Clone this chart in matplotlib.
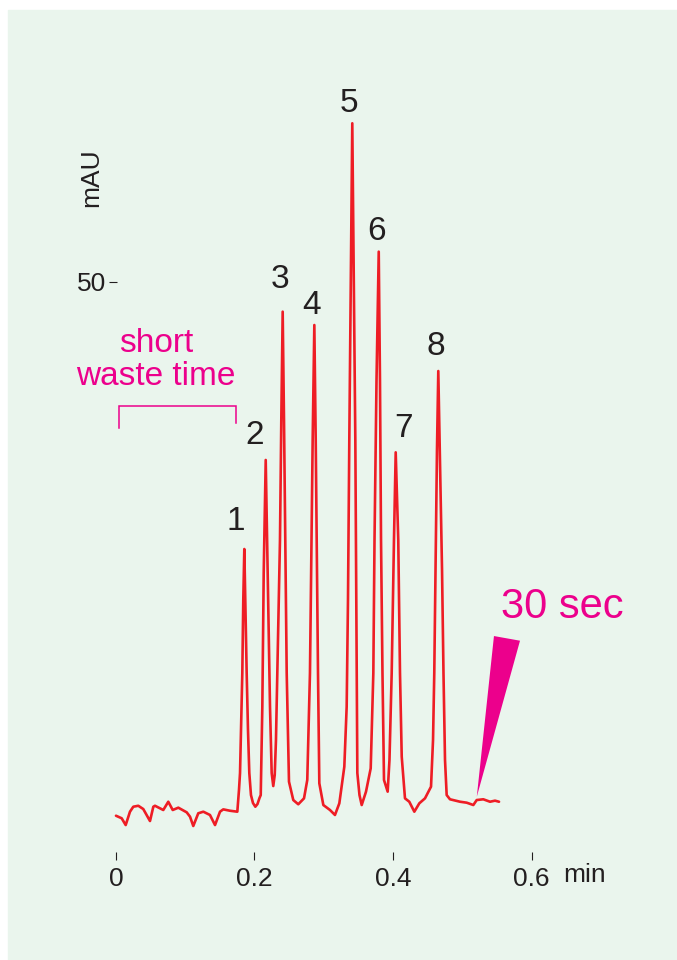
import matplotlib
matplotlib.use("Agg")
import matplotlib.pyplot as plt
from matplotlib.patches import Rectangle, Polygon

# trace: time (min) vs absorbance (mAU)
time_min = [
    0.0000, 0.0082, 0.0140, 0.0202, 0.0250, 0.0322, 0.0394, 0.0491, 0.0539, 0.0563,
    0.0683, 0.0755, 0.0819, 0.0900, 0.1021, 0.1069, 0.1116, 0.1188, 0.1261, 0.1357,
    0.1430, 0.1502, 0.1549, 0.1646, 0.1752,
    # peak 1
    0.1776, 0.1791, 0.1809, 0.1824, 0.1838, 0.1853, 0.1867, 0.1887, 0.1906, 0.1925,
    0.1949, 0.1978, 0.2012, 0.2043,
    # peak 2
    0.2072, 0.2090, 0.2113, 0.2133, 0.2162, 0.2191, 0.2224, 0.2248, 0.2271, 0.2292,
    # peak 3
    0.2310, 0.2339, 0.2368, 0.2387, 0.2407, 0.2426, 0.2445, 0.2465, 0.2498, 0.2560,
    0.2632, 0.2715, 0.2762,
    # peak 4
    0.2801, 0.2823, 0.2840, 0.2864, 0.2884, 0.2898, 0.2917, 0.2936, 0.2994, 0.3090,
    0.3162, 0.3225, 0.3297,
    # peak 5
    0.3331, 0.3350, 0.3369, 0.3391, 0.3412, 0.3434, 0.3456, 0.3470, 0.3485, 0.3516,
    0.3548, 0.3610, 0.3678,
    # peak 6
    0.3716, 0.3733, 0.3762, 0.3794, 0.3812, 0.3827, 0.3848, 0.3870, 0.3923, 0.3949,
    # peak 7
    0.3981, 0.4014, 0.4039, 0.4076, 0.4101, 0.4126, 0.4173, 0.4235, 0.4308, 0.4380,
    0.4462, 0.4549,
    # peak 8 and tail
    0.4578, 0.4596, 0.4614, 0.4635, 0.4654, 0.4676, 0.4708, 0.4729, 0.4751, 0.4775,
    0.4823, 0.4968, 0.5064, 0.5160, 0.5209, 0.5304, 0.5401, 0.5473, 0.5531,
]
signal_mau = [
    -0.35, -0.59, -1.23, 0.03, 0.50, 0.59, 0.28, -0.85, 0.50, 0.59,
    0.19, 0.97, 0.19, 0.41, -0.03, -0.44, -1.32, -0.12, 0.03, -0.28,
    -1.23, 0.03, 0.25, 0.12, 0.03,
    2.08, 3.68, 8.68, 13.11, 20.00, 24.81, 20.00, 13.11, 7.74, 3.68,
    1.60, 0.85, 0.50, 0.75,
    1.32, 1.60, 9.91, 22.55, 33.21, 22.55, 9.91, 3.68, 2.45, 3.49,
    6.79, 16.23, 25.66, 36.98, 47.20, 36.98, 25.66, 13.11, 2.86, 1.13,
    0.73, 1.29, 3.02,
    13.11, 25.66, 35.09, 45.94, 35.09, 25.66, 13.11, 2.71, 0.66, 0.19,
    -0.28, 0.82, 4.27,
    9.93, 20.00, 35.09, 50.19, 64.97, 50.19, 35.09, 20.00, 3.68, 1.60,
    0.66, 1.92, 4.12,
    13.11, 25.66, 40.75, 52.86, 40.75, 25.66, 13.11, 3.02, 1.92, 4.91,
    13.11, 25.66, 33.93, 25.66, 13.11, 5.22, 1.29, 0.97, 0.03, 0.82,
    1.29, 2.39,
    6.79, 13.11, 22.83, 34.15, 41.60, 34.15, 22.83, 13.11, 4.91, 1.60,
    1.20, 0.97, 0.88, 0.66, 1.13, 1.20, 0.97, 1.07, 0.97,
]

peak_ids = ["1", "2", "3", "4", "5", "6", "7", "8"]
peak_time = [0.1853, 0.2162, 0.2407, 0.2864, 0.3412, 0.3794, 0.4039, 0.4654]
peak_height = [24.81, 33.21, 47.20, 45.94, 64.97, 52.86, 33.93, 41.60]

x_ticks = [0, 0.2, 0.4, 0.6]
x_ticklabels = ["0", "0.2", "0.4", "0.6"]
y_ticks = [50]
y_ticklabels = ["50"]

waste_window = [0.005, 0.173]   # min, before the first peak elutes
run_end = 0.521                 # min, where the "30 sec" wedge points

RED = "#EE1D25"
MAGENTA = "#EC008C"
INK = "#231F20"
PANEL = "#EAF5ED"

plt.rcParams["font.family"] = ["Liberation Sans", "DejaVu Sans"]

fig = plt.figure(figsize=(6.77, 9.6), dpi=100)
fig.patch.set_facecolor("white")
fig.add_artist(Rectangle((8 / 677, 0), 1 - 8 / 677, 950 / 960,
                         transform=fig.transFigure, color=PANEL, zorder=0))

ax = fig.add_axes([0, 0, 1, 1])
ax.set_facecolor("none")
ax.set_xlim(-0.1675, 0.8101)
ax.set_ylim(-13.96, 76.60)

ax.plot(time_min, signal_mau, color=RED, linewidth=1.9, solid_joinstyle="round",
        solid_capstyle="round", zorder=3)

# peak numbers just above each apex (offsets in pixels)
label_offsets = [(-9, 19), (-11, 16), (-3, 24), (-3, 11), (-3, 11), (-2, 12), (8, 15), (-2, 16)]
for pid, pt, ph, (dx, dy) in zip(peak_ids, peak_time, peak_height, label_offsets):
    ax.annotate(pid, xy=(pt, ph), xytext=(dx, dy), textcoords="offset pixels",
                ha="center", va="baseline", fontsize=24, color=INK)

# axes: no spines, only the tick marks
for side in ("top", "right", "bottom", "left"):
    ax.spines[side].set_visible(False)
ax.spines["bottom"].set_position(("data", -4.53))
ax.spines["left"].set_position(("data", 0.0015))

ax.set_xticks(x_ticks, labels=x_ticklabels)
ax.set_yticks(y_ticks, labels=y_ticklabels)
ax.tick_params(axis="x", direction="in", length=5.8, width=0.8, pad=5,
               labelsize=19, colors=INK)
ax.tick_params(axis="y", direction="out", length=5.8, width=0.8, pad=2,
               labelsize=19, colors=INK)

ax.set_xlabel("min", fontsize=19, color=INK)
ax.xaxis.set_label_coords(0.6768, -4.81, transform=ax.transData)
ax.set_ylabel("mAU", fontsize=19, color=INK)
ax.yaxis.set_label_coords(-0.0178, 59.86, transform=ax.transData)

# "short waste time" bracket
w0, w1 = waste_window
ax.plot([w0, w0, w1, w1], [36.23, 38.33, 38.33, 36.70], color=MAGENTA,
        linewidth=1.1, solid_joinstyle="miter")
ax.text(0.0578, 43.42, "short", ha="center", va="baseline", fontsize=24, color=MAGENTA)
ax.text(0.0578, 40.28, "waste time", ha="center", va="baseline", fontsize=24, color=MAGENTA)

# "30 sec" wedge pointing at the end of the run
ax.add_patch(Polygon([(0.5458, 16.60), (0.5834, 16.16), (run_end, 1.44)],
                     closed=True, facecolor=MAGENTA, edgecolor="none", zorder=4))
ax.text(0.6447, 18.27, "30 sec", ha="center", va="baseline", fontsize=30, color=MAGENTA)

fig.savefig("out.png", dpi=100)
